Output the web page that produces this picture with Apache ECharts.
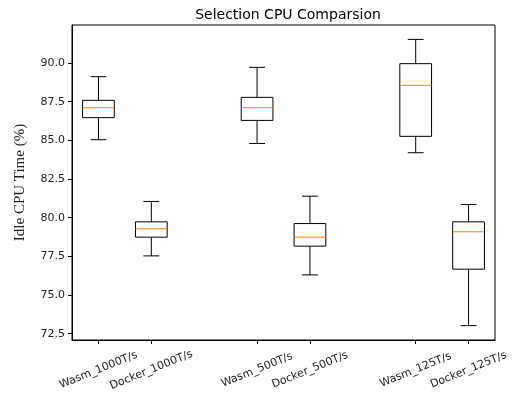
<!DOCTYPE html>
<html>
<head>
<meta charset="utf-8">
<script src="https://cdn.jsdelivr.net/npm/echarts@6/dist/echarts.min.js"></script>
<style>
  html, body { margin: 0; padding: 0; background: #fff; }
  #chart { width: 514px; height: 402px; }
</style>
</head>
<body>
<div id="chart"></div>
<script>
// groups and their x positions (gaps at 3 and 6)
var names = ['Wasm_1000T/s', 'Docker_1000T/s', 'Wasm_500T/s', 'Docker_500T/s', 'Wasm_125T/s', 'Docker_125T/s'];
var positions = [1, 2, 4, 5, 7, 8];

// box stats
var lowWhisker = [85.04, 77.53, 84.80, 76.30, 84.20, 73.02];
var q1 = [86.47, 78.74, 86.29, 78.16, 85.26, 76.67];
var median = [87.11, 79.28, 87.11, 78.74, 88.56, 79.09];
var q3 = [87.59, 79.73, 87.78, 79.62, 89.96, 79.73];
var highWhisker = [89.12, 81.05, 89.72, 81.39, 91.53, 80.85];

var yTicks = [72.5, 75.0, 77.5, 80.0, 82.5, 85.0, 87.5, 90.0];

var boxData = positions.map(function (p, i) {
  return [p, lowWhisker[i], q1[i], median[i], q3[i], highWhisker[i]];
});

var chart = echarts.init(document.getElementById('chart'));

function renderBox(params, api) {
  var x = api.value(0);
  var w = api.size([0.6, 0])[0];
  var capW = w / 2;
  var pLow = api.coord([x, api.value(1)]);
  var pQ1 = api.coord([x, api.value(2)]);
  var pMed = api.coord([x, api.value(3)]);
  var pQ3 = api.coord([x, api.value(4)]);
  var pHigh = api.coord([x, api.value(5)]);
  var cx = pMed[0];
  var black = { stroke: '#000', lineWidth: 1, fill: null };
  return {
    type: 'group',
    children: [
      { type: 'line', shape: { x1: cx, y1: pQ1[1], x2: cx, y2: pLow[1] }, style: black },
      { type: 'line', shape: { x1: cx, y1: pQ3[1], x2: cx, y2: pHigh[1] }, style: black },
      { type: 'line', shape: { x1: cx - capW / 2, y1: pLow[1], x2: cx + capW / 2, y2: pLow[1] }, style: black },
      { type: 'line', shape: { x1: cx - capW / 2, y1: pHigh[1], x2: cx + capW / 2, y2: pHigh[1] }, style: black },
      { type: 'rect', shape: { x: cx - w / 2, y: pQ3[1], width: w, height: pQ1[1] - pQ3[1] },
        style: { stroke: '#000', lineWidth: 1, fill: '#fff' } },
      { type: 'line', shape: { x1: cx - w / 2, y1: pMed[1], x2: cx + w / 2, y2: pMed[1] },
        style: { stroke: '#ff7f0e', lineWidth: 1 } }
    ]
  };
}

chart.setOption({
  animation: false,
  backgroundColor: '#fff',
  title: {
    text: 'Selection CPU Comparsion',
    left: 283,
    top: 3,
    textAlign: 'center',
    textStyle: { fontFamily: 'DejaVu Sans', fontSize: 14, fontWeight: 'normal', color: '#000' }
  },
  grid: {
    left: 72, right: 19, top: 25, bottom: 62,
    show: true, borderColor: '#000', borderWidth: 1, backgroundColor: 'transparent'
  },
  xAxis: {
    type: 'value',
    min: 0.5,
    max: 8.5,
    splitLine: { show: false },
    axisLine: { show: true, lineStyle: { color: '#000', width: 1 } },
    axisTick: { show: true, length: 4, customValues: positions, lineStyle: { color: '#000' } },
    axisLabel: {
      customValues: positions,
      rotate: 22,
      align: 'center',
      verticalAlign: 'middle',
      margin: 30,
      fontFamily: 'DejaVu Sans',
      fontSize: 11,
      color: '#222',
      formatter: function (v) {
        var i = positions.indexOf(v);
        return i >= 0 ? names[i] : '';
      }
    }
  },
  yAxis: {
    type: 'value',
    min: 72.09,
    max: 92.46,
    name: 'Idle CPU Time (%)',
    nameLocation: 'middle',
    nameGap: 44,
    nameTextStyle: { fontFamily: 'Liberation Serif', fontSize: 15, color: '#222' },
    splitLine: { show: false },
    axisLine: { show: true, lineStyle: { color: '#000', width: 1 } },
    axisTick: { show: true, length: 4, customValues: yTicks, lineStyle: { color: '#000' } },
    axisLabel: {
      customValues: yTicks,
      margin: 7,
      fontFamily: 'DejaVu Sans',
      fontSize: 11,
      color: '#222',
      formatter: function (v) { return v.toFixed(1); }
    }
  },
  series: [{
    type: 'custom',
    renderItem: renderBox,
    encode: { x: 0, y: [1, 2, 3, 4, 5] },
    data: boxData
  }]
});
</script>
</body>
</html>
